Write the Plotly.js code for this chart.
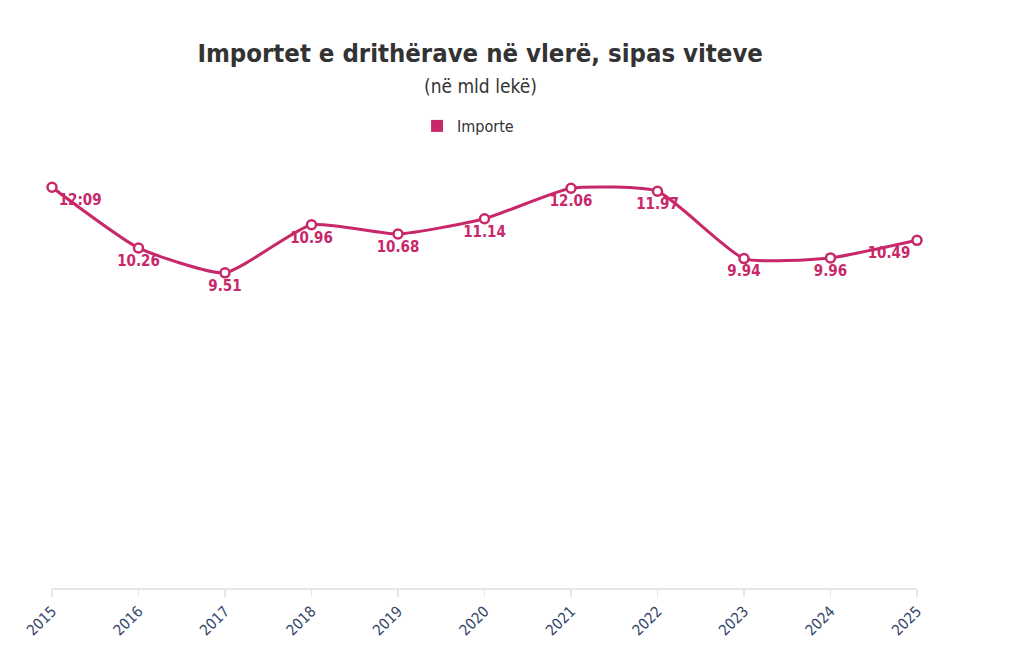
<!DOCTYPE html>
<html><head><meta charset="utf-8">
<script src="https://cdn.plot.ly/plotly-3.0.1.min.js"></script>
<style>html,body{margin:0;padding:0;background:#fff}#chart{width:1024px;height:648px}</style>
</head><body><div id="chart"></div>
<script>
var years = ['2015','2016','2017','2018','2019','2020','2021','2022','2023','2024','2025'];
var importe = [12.09,10.26,9.51,10.96,10.68,11.14,12.06,11.97,9.94,9.96,10.49];
var labels = ['12:09','10.26','9.51','10.96','10.68','11.14','12.06','11.97','9.94','9.96','10.49'];
var positions = ['bottom right','bottom center','bottom center','bottom center','bottom center','bottom center','bottom center','bottom center','bottom center','bottom center','bottom left'];
var titleText = 'Importet e drithërave në vlerë, sipas viteve';
var subtitleText = '(në mld lekë)';
var seriesName = 'Importe';

var FONT = '"DejaVu Sans Condensed", "DejaVu Sans", sans-serif';
var COLOR = '#c8286a';

var main = {
  x: years, y: importe, text: labels,
  type: 'scatter', mode: 'lines+markers+text',
  line: {color: COLOR, width: 3, shape: 'spline', smoothing: 0.5},
  marker: {size: 9, color: '#ffffff', line: {color: COLOR, width: 2.5}},
  textposition: positions,
  textfont: {family: FONT, size: 15, color: COLOR, weight: 'bold'},
  showlegend: false, cliponaxis: false, hoverinfo: 'x+y'
};
var legendTrace = {
  x: [null], y: [null], type: 'scatter', mode: 'markers', name: seriesName,
  marker: {symbol: 'square', size: 12, color: COLOR}, showlegend: true
};

var layout = {
  width: 1024, height: 648,
  paper_bgcolor: '#fff', plot_bgcolor: '#fff',
  margin: {l: 52, r: 107, t: 124, b: 60},
  title: {text: titleText, x: 0.495, xanchor: 'center', xref: 'paper',
          y: 1 - 53/648, yanchor: 'middle', yref: 'container',
          font: {family: FONT, size: 25.5, color: '#333333', weight: 'bold'}},
  annotations: [{text: subtitleText, xref: 'paper', yref: 'paper', x: 0.495, y: 1 + (124-86)/464,
                 xanchor: 'center', yanchor: 'middle', showarrow: false,
                 font: {family: FONT, size: 19, color: '#333333'}}],
  showlegend: true,
  legend: {orientation: 'h', x: 0.481, xanchor: 'center', y: 1 + (124-126)/464, yanchor: 'middle',
           font: {family: FONT, size: 16, color: '#333'}, itemwidth: 30},
  xaxis: {type: 'category', range: [0, 10], showgrid: false, zeroline: false,
          showline: true, linecolor: '#e6e6e6', linewidth: 1.5,
          ticks: 'outside', ticklen: 7, tickcolor: '#e6e6e6', tickwidth: 1.5,
          tickangle: -45, tickfont: {family: FONT, size: 15, color: '#34476b'}},
  yaxis: {range: [0, 14], showgrid: false, zeroline: false, showline: false,
          showticklabels: false, ticks: ''}
};
Plotly.newPlot('chart', [main, legendTrace], layout, {displayModeBar: false, staticPlot: true});
</script></body></html>
